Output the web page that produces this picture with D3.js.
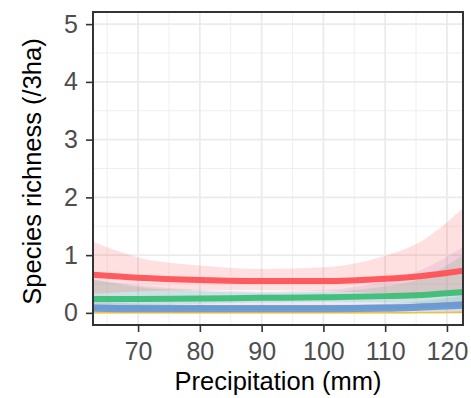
<!DOCTYPE html>
<meta charset="utf-8">
<style>
body { margin: 0; background: #fff; }
.tick text { font-family: "Liberation Sans", Arial, sans-serif; fill: #4d4d4d; }
.ttl { font-family: "Liberation Sans", Arial, sans-serif; fill: #000; }
</style>
<body>
<script src="https://d3js.org/d3.v7.min.js"></script>
<script>
var precip = [62.7, 70, 80, 90, 100, 110, 116, 122.6];

var redFit   = [0.66, 0.61, 0.57, 0.55, 0.55, 0.59, 0.64, 0.73];
var redHi    = [1.23, 0.96, 0.82, 0.76, 0.79, 0.99, 1.25, 1.81];
var redLo    = [0.33, 0.37, 0.39, 0.39, 0.38, 0.34, 0.32, 0.29];

var purpleFit = [0.10, 0.09, 0.09, 0.09, 0.09, 0.10, 0.12, 0.16];
var purpleHi  = [0.58, 0.48, 0.40, 0.37, 0.39, 0.55, 0.75, 1.14];
var purpleLo  = [0.00, 0.00, 0.01, 0.01, 0.01, 0.01, 0.01, 0.00];

var greenFit = [0.24, 0.24, 0.25, 0.26, 0.27, 0.29, 0.31, 0.36];
var greenHi  = [0.58, 0.45, 0.38, 0.35, 0.36, 0.46, 0.60, 1.00];
var greenLo  = [0.10, 0.12, 0.16, 0.18, 0.19, 0.18, 0.16, 0.13];

var blueFit = [0.08, 0.07, 0.07, 0.07, 0.07, 0.08, 0.10, 0.13];
var blueHi  = [0.20, 0.16, 0.14, 0.13, 0.14, 0.16, 0.20, 0.30];
var blueLo  = [0.02, 0.03, 0.04, 0.04, 0.04, 0.04, 0.03, 0.02];

var yellowFit = [0.00, 0.00, 0.00, 0.00, 0.00, 0.00, 0.005, 0.01];
var yellowHi  = [0.01, 0.01, 0.01, 0.01, 0.01, 0.01, 0.02, 0.03];
var yellowLo  = [0.00, 0.00, 0.00, 0.00, 0.00, 0.00, 0.00, 0.00];

var xTicks = [70, 80, 90, 100, 110, 120];
var yTicks = [0, 1, 2, 3, 4, 5];

var series = [
  {name: "yellow", color: "#f2c02c", fit: yellowFit, hi: yellowHi, lo: yellowLo, w: 1.5},
  {name: "purple", color: "#9a8cd0", fit: purpleFit, hi: purpleHi, lo: purpleLo, w: 5},
  {name: "blue",   color: "#6b9bd2", fit: blueFit,   hi: blueHi,   lo: blueLo,   w: 7},
  {name: "green",  color: "#3dbd78", fit: greenFit,  hi: greenHi,  lo: greenLo,  w: 6},
  {name: "red",    color: "#ff5257", fit: redFit,    hi: redHi,    lo: redLo,    w: 6}
];

var W = 471, H = 398;
var margin = {top: 12, right: 8, bottom: 73, left: 93},
    width = W - margin.left - margin.right,
    height = H - margin.top - margin.bottom;

var svg = d3.select("body").append("svg")
    .attr("width", W)
    .attr("height", H);

var g = svg.append("g")
    .attr("transform", "translate(" + margin.left + "," + margin.top + ")");

var x = d3.scaleLinear().domain([62.7, 122.6]).range([0, width]);
var y = d3.scaleLinear().domain([-0.21, 5.21]).range([height, 0]);

// grid
var minorX = [65, 75, 85, 95, 105, 115],
    minorY = [0.5, 1.5, 2.5, 3.5, 4.5];
g.selectAll(".gmx").data(minorX).enter().append("line")
    .attr("x1", d => x(d)).attr("x2", d => x(d)).attr("y1", 0).attr("y2", height)
    .attr("stroke", "#ebebeb").attr("stroke-width", 0.8);
g.selectAll(".gmy").data(minorY).enter().append("line")
    .attr("y1", d => y(d)).attr("y2", d => y(d)).attr("x1", 0).attr("x2", width)
    .attr("stroke", "#ebebeb").attr("stroke-width", 0.8);
g.selectAll(".gx").data(xTicks).enter().append("line")
    .attr("x1", d => x(d)).attr("x2", d => x(d)).attr("y1", 0).attr("y2", height)
    .attr("stroke", "#ebebeb").attr("stroke-width", 1.8);
g.selectAll(".gy").data(yTicks).enter().append("line")
    .attr("y1", d => y(d)).attr("y2", d => y(d)).attr("x1", 0).attr("x2", width)
    .attr("stroke", "#ebebeb").attr("stroke-width", 1.8);

var clip = g.append("clipPath").attr("id", "clip")
  .append("rect").attr("width", width).attr("height", height);
var plot = g.append("g").attr("clip-path", "url(#clip)");

// ribbons first, then lines
series.forEach(function(s) {
  var area = d3.area()
      .x((d, i) => x(precip[i]))
      .y0((d, i) => y(s.lo[i]))
      .y1((d, i) => y(s.hi[i]))
      .curve(d3.curveMonotoneX);
  plot.append("path")
      .datum(s.fit)
      .attr("fill", s.color)
      .attr("fill-opacity", 0.18)
      .attr("d", area);
});

series.forEach(function(s) {
  var line = d3.line()
      .x((d, i) => x(precip[i]))
      .y(d => y(d))
      .curve(d3.curveMonotoneX);
  plot.append("path")
      .datum(s.fit)
      .attr("fill", "none")
      .attr("stroke", s.color)
      .attr("stroke-opacity", 0.95)
      .attr("stroke-width", s.w)
      .attr("d", line);
});

// axes
var xAxis = g.append("g")
    .attr("transform", "translate(0," + height + ")")
    .call(d3.axisBottom(x).tickValues(xTicks).tickSize(7).tickPadding(10));
var yAxis = g.append("g")
    .call(d3.axisLeft(y).tickValues(yTicks).tickFormat(d3.format("d")).tickSize(7).tickPadding(8));
[xAxis, yAxis].forEach(function(a) {
  a.select(".domain").remove();
  a.selectAll(".tick line").attr("stroke", "#333").attr("stroke-width", 1.6);
  a.selectAll(".tick text").style("font-size", "25px");
});

g.append("rect")
    .attr("width", width).attr("height", height)
    .attr("fill", "none").attr("stroke", "#333").attr("stroke-width", 2);

svg.append("text")
    .attr("class", "ttl")
    .attr("x", margin.left + width / 2)
    .attr("y", 390)
    .attr("text-anchor", "middle")
    .style("font-size", "25.5px")
    .text("Precipitation (mm)");

svg.append("text")
    .attr("class", "ttl")
    .attr("transform", "translate(41," + (margin.top + height / 2 + 3) + ") rotate(-90)")
    .attr("text-anchor", "middle")
    .style("font-size", "25.5px")
    .text("Species richness (/3ha)");
</script>
</body>
